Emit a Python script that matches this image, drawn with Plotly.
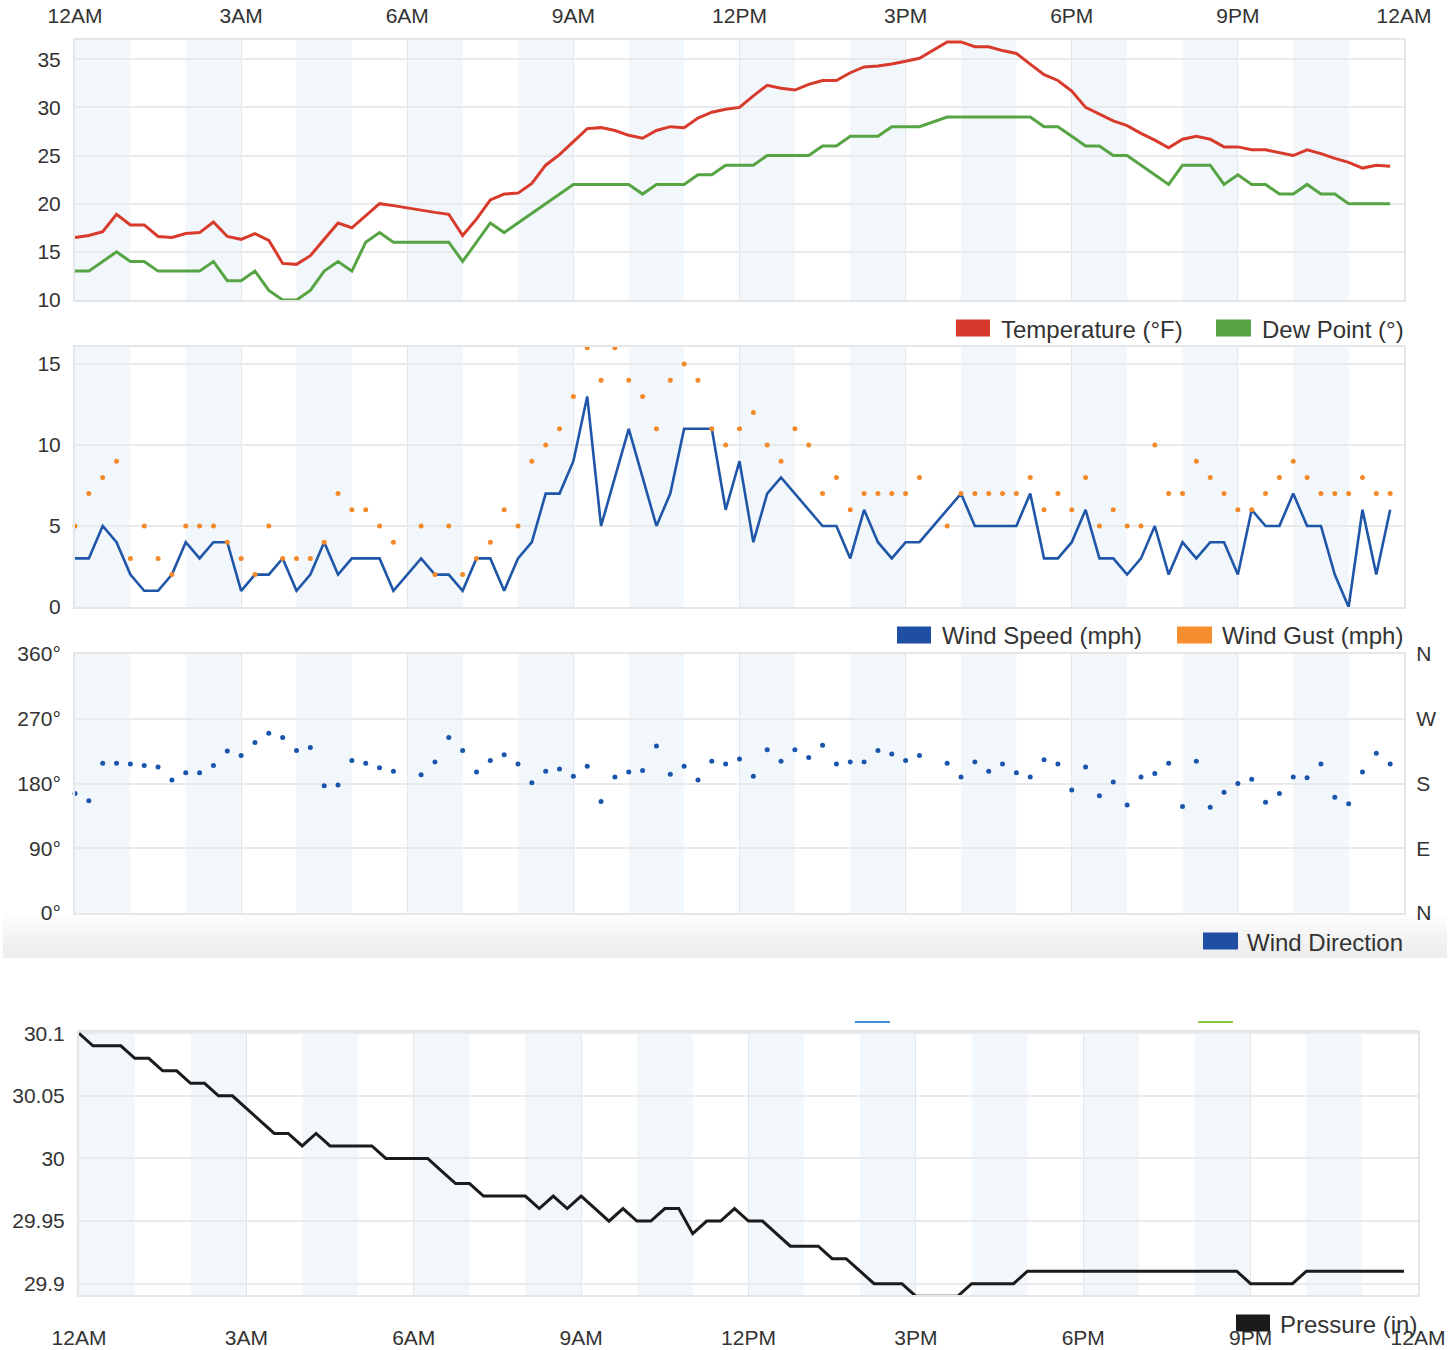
import plotly.graph_objects as go

W, H = 1456, 1350

# ---------------- data ----------------
times = [f"{h:02d}:{m:02d}" for h in range(24) for m in (0, 15, 30, 45)]
hour_tick_vals = [0, 3, 6, 9, 12, 15, 18, 21, 24]
hour_tick_text = ["12AM", "3AM", "6AM", "9AM", "12PM", "3PM", "6PM", "9PM", "12AM"]

temperature = [16.5, 16.7, 17.1, 18.9, 17.8, 17.8, 16.6, 16.5, 16.9, 17.0,
               18.1, 16.6, 16.3, 16.9, 16.2, 13.8, 13.7, 14.6, 16.3, 18.0,
               17.5, 18.8, 20.0, 19.8, None, 19.3, 19.1, 18.9, 16.7, 18.4,
               20.4, 21.0, 21.1, 22.1, 24.0, 25.1, 26.4, 27.8, 27.9, 27.6,
               27.1, 26.8, 27.6, 28.0, 27.9, 28.9, 29.5, 29.8,
               30.0, 31.2, 32.3, 32.0, 31.8, 32.4, 32.8, 32.8, 33.6, 34.2,
               34.3, 34.5, 34.8, 35.1, None, 36.8, 36.8, 36.3, 36.3, 35.9,
               35.6, 34.5, 33.4, 32.8, 31.7, 30.0, 29.3, 28.6, 28.1, 27.3,
               26.6, 25.8, 26.7, 27.0, 26.7, 25.9, 25.9, 25.6, 25.6, 25.3,
               25.0, 25.6, 25.2, 24.7, 24.3, 23.7, 24.0, 23.9]

dew_point = [13, 13, 14, 15, 14, 14, 13, 13, 13, 13,
             14, 12, 12, 13, 11, 10, 10, 11, 13, 14,
             13, 16, 17, 16, None, 16, 16, 16, 14, 16,
             18, 17, 18, 19, 20, 21, 22, 22, 22, 22,
             22, 21, 22, 22, 22, 23, 23, 24,
             24, 24, 25, 25, 25, 25, 26, 26, 27, 27,
             27, 28, 28, 28, None, 29, 29, 29, 29, 29,
             29, 29, 28, 28, 27, 26, 26, 25, 25, 24,
             23, 22, 24, 24, 24, 22, 23, 22, 22, 21,
             21, 22, 21, 21, 20, 20, 20, 20]

wind_speed = [3, 3, 5, 4, 2, 1, 1, 2, 4, 3,
              4, 4, 1, 2, 2, 3, 1, 2, 4, 2,
              3, 3, 3, 1, None, 3, 2, 2, 1, 3,
              3, 1, 3, 4, 7, 7, 9, 13, 5, 8,
              11, 8, 5, 7, 11, 11, 11, 6,
              9, 4, 7, 8, 7, 6, 5, 5, 3, 6,
              4, 3, 4, 4, None, 6, 7, 5, 5, 5,
              5, 7, 3, 3, 4, 6, 3, 3, 2, 3,
              5, 2, 4, 3, 4, 4, 2, 6, 5, 5,
              7, 5, 5, 2, 0, 6, 2, 6]

wind_gust = [5, 7, 8, 9, 3, 5, 3, 2, 5, 5,
             5, 4, 3, 2, 5, 3, 3, 3, 4, 7,
             6, 6, 5, 4, None, 5, 2, 5, 2, 3,
             4, 6, 5, 9, 10, 11, 13, 16, 14, 16,
             14, 13, 11, 14, 15, 14, 11, 10,
             11, 12, 10, 9, 11, 10, 7, 8, 6, 7,
             7, 7, 7, 8, None, 5, 7, 7, 7, 7,
             7, 8, 6, 7, 6, 8, 5, 6, 5, 5,
             10, 7, 7, 9, 8, 7, 6, 6, 7, 8,
             9, 8, 7, 7, 7, 8, 7, 7]

wind_dir = [166, 156, 208, 208, 207, 205, 203, 185, 195, 195,
            205, 225, 219, 237, 250, 244, 226, 230, 177, 178,
            212, 208, 202, 197, None, 192, 210, 244, 226, 196,
            212, 220, 207, 181, 197, 200, 190, 204, 155, 189,
            196, 198, 232, 193, 204, 185, 211, 207,
            214, 190, 227, 211, 227, 216, 233, 207, 210, 210,
            226, 221, 212, 219, None, 208, 189, 210, 197, 207,
            195, 189, 213, 207, 171, 203, 163, 182, 150, 189,
            194, 208, 148, 211, 147, 168, 180, 186, 154, 166,
            189, 188, 207, 161, 152, 196, 222, 207]

pressure = [30.10, 30.09, 30.09, 30.09, 30.08, 30.08, 30.07, 30.07, 30.06, 30.06,
            30.05, 30.05, 30.04, 30.03, 30.02, 30.02, 30.01, 30.02, 30.01, 30.01,
            30.01, 30.01, 30.00, 30.00, 30.00, 30.00, 29.99, 29.98, 29.98, 29.97,
            29.97, 29.97, 29.97, 29.96, 29.97, 29.96, 29.97, 29.96, 29.95, 29.96,
            29.95, 29.95, 29.96, 29.96, 29.94, 29.95, 29.95, 29.96,
            29.95, 29.95, 29.94, 29.93, 29.93, 29.93, 29.92, 29.92, 29.91, 29.90,
            29.90, 29.90, 29.89, 29.89, 29.89, 29.89, 29.90, 29.90, 29.90, 29.90,
            29.91, 29.91, 29.91, 29.91, 29.91, 29.91, 29.91, 29.91, 29.91, 29.91,
            29.91, 29.91, 29.91, 29.91, 29.91, 29.91, 29.90, 29.90, 29.90, 29.90,
            29.91, 29.91, 29.91, 29.91, 29.91, 29.91, 29.91, 29.91]

temp_ticks = [10, 15, 20, 25, 30, 35]
wind_ticks = [0, 5, 10, 15]
dir_ticks = [0, 90, 180, 270, 360]
dir_tick_text = ["0°", "90°", "180°", "270°", "360°"]
compass_text = ["N", "E", "S", "W", "N"]
pres_ticks = [29.9, 29.95, 30.0, 30.05, 30.1]
pres_tick_text = ["29.9", "29.95", "30", "30.05", "30.1"]

# ---------------- styling ----------------
FONT = "Liberation Sans, Arial, sans-serif"
TXT = "#333333"
BAND = "#f2f7fc"
GRID = "#e9eaec"
VGRID = "#e2e6eb"
BORDER = "#e4e6e8"

x = [int(t[:2]) + int(t[3:]) / 60 for t in times]


def px(v):
    return v / W


def py(v):
    return 1 - v / H


def xd(l, r):
    return [px(l), px(r)]


def yd(t, b):
    return [py(b), py(t)]


fig = go.Figure()

# Panel 1 traces
fig.add_trace(go.Scatter(x=x, y=temperature, mode="lines", connectgaps=True,
                         line=dict(color="#d83a2c", width=3), xaxis="x", yaxis="y",
                         name="Temperature (°F)", cliponaxis=False))
fig.add_trace(go.Scatter(x=x, y=dew_point, mode="lines", connectgaps=True,
                         line=dict(color="#57a444", width=3), xaxis="x", yaxis="y",
                         name="Dew Point (°)", cliponaxis=False))
# Panel 2
fig.add_trace(go.Scatter(x=x, y=wind_speed, mode="lines", connectgaps=True,
                         line=dict(color="#1f56a8", width=2.6), xaxis="x2", yaxis="y2",
                         name="Wind Speed (mph)", cliponaxis=False))
fig.add_trace(go.Scatter(x=x, y=wind_gust, mode="markers",
                         marker=dict(color="#f28a2a", size=5), xaxis="x2", yaxis="y2",
                         name="Wind Gust (mph)", cliponaxis=False))
# Panel 3 (plus an invisible copy on the compass axis so that axis is drawn)
fig.add_trace(go.Scatter(x=x, y=wind_dir, mode="markers",
                         marker=dict(color="#1a55ad", size=5), xaxis="x3", yaxis="y3",
                         name="Wind Direction", cliponaxis=False))
fig.add_trace(go.Scatter(x=x, y=wind_dir, mode="markers", opacity=0,
                         marker=dict(color="#1a55ad", size=1), xaxis="x3", yaxis="y5",
                         hoverinfo="skip", showlegend=False))
# Panel 4
fig.add_trace(go.Scatter(x=x, y=pressure, mode="lines",
                         line=dict(color="#1b1b1b", width=3), xaxis="x4", yaxis="y4",
                         name="Pressure (in)", cliponaxis=False))

tickfont = dict(family=FONT, size=21, color=TXT)


def xaxis_style(dom, anchor, show, side="bottom", ticklen=5):
    return dict(domain=dom, anchor=anchor, range=[0, 24], tickvals=hour_tick_vals,
                ticktext=hour_tick_text, showticklabels=show, side=side,
                showgrid=True, gridcolor=VGRID, gridwidth=1, zeroline=False,
                showline=True, mirror=True, linecolor=BORDER, linewidth=2,
                ticks="outside" if show else "", ticklen=ticklen,
                tickcolor="rgba(0,0,0,0)", tickfont=tickfont, fixedrange=True,
                automargin=False)


def yaxis_style(dom, anchor, rng, vals, text=None, ticklen=8):
    d = dict(domain=dom, anchor=anchor, range=rng, tickvals=vals,
             showgrid=True, gridcolor=GRID, gridwidth=2, zeroline=False,
             showline=True, mirror=True, linecolor=BORDER, linewidth=2,
             ticks="outside", ticklen=ticklen, tickcolor="rgba(0,0,0,0)",
             tickfont=tickfont, fixedrange=True, automargin=False)
    if text is not None:
        d["ticktext"] = text
    return d


X1 = xd(75, 1404)
X4 = xd(79, 1418)
Y1 = yd(40, 300)
Y2 = yd(347, 607)
Y3 = yd(654, 913)
Y4 = yd(1032, 1295)

fig.update_layout(
    template="none",
    xaxis=xaxis_style(X1, "y", True, side="top", ticklen=7),
    yaxis=yaxis_style(Y1, "x", [10, 37], temp_ticks),
    xaxis2=xaxis_style(X1, "y2", False),
    yaxis2=yaxis_style(Y2, "x2", [0, 16.05], wind_ticks),
    xaxis3=xaxis_style(X1, "y3", False),
    yaxis3=yaxis_style(Y3, "x3", [0, 360], dir_ticks, dir_tick_text),
    yaxis5=dict(overlaying="y3", anchor="x3", side="right", range=[0, 360],
                tickvals=dir_ticks, ticktext=compass_text, showgrid=False,
                zeroline=False, showline=False, ticks="outside", ticklen=7,
                tickcolor="rgba(0,0,0,0)", tickfont=tickfont, fixedrange=True,
                automargin=False),
    xaxis4=xaxis_style(X4, "y4", True, side="bottom", ticklen=23),
    yaxis4=yaxis_style(Y4, "x4", [29.891, 30.101], pres_ticks, pres_tick_text, ticklen=8),
)

shapes = []
# alternating hourly bands
for ax_x, ax_y in (("x", "y"), ("x2", "y2"), ("x3", "y3"), ("x4", "y4")):
    for h in range(0, 24, 2):
        shapes.append(dict(type="rect", xref=ax_x, yref=f"{ax_y} domain",
                           x0=h, x1=h + 1, y0=0, y1=1, fillcolor=BAND,
                           line=dict(width=0), layer="below"))

# soft gray fade under the wind-direction panel
n = 12
top, bot = 914, 958
for i in range(n):
    y0 = top + (bot - top) * i / n
    y1 = top + (bot - top) * (i + 1) / n
    g = int(255 - (255 - 236) * (i + 1) / n)
    shapes.append(dict(type="rect", xref="paper", yref="paper",
                       x0=px(3), x1=px(1447), y0=py(y1), y1=py(y0),
                       fillcolor=f"rgb({g},{g},{g})", line=dict(width=0), layer="below"))

# custom legends: (swatch x0, swatch x1, y center, color, label, text x)
legend_items = [
    (956, 990, 328, "#d63a2c", "Temperature (°F)", 999),
    (1216, 1251, 328, "#57a444", "Dew Point (°)", 1260),
    (897, 931, 635, "#1f4fa5", "Wind Speed (mph)", 940),
    (1177, 1212, 635, "#f68d2e", "Wind Gust (mph)", 1220),
    (1203, 1238, 941, "#1f4fa5", "Wind Direction", 1245),
    (1236, 1270, 1323, "#1b1b1b", "Pressure (in)", 1278),
]
annotations = []
for sx0, sx1, yc, col, label, tx in legend_items:
    shapes.append(dict(type="rect", xref="paper", yref="paper",
                       x0=px(sx0), x1=px(sx1), y0=py(yc + 8.5), y1=py(yc - 8.5),
                       fillcolor=col, line=dict(width=0)))
    annotations.append(dict(xref="paper", yref="paper", x=px(tx), y=py(yc + 1),
                            xanchor="left", yanchor="middle", text=label,
                            showarrow=False, font=dict(family=FONT, size=24, color=TXT)))

# faded legend stubs at top of pressure panel
shapes.append(dict(type="line", xref="paper", yref="paper", x0=px(855), x1=px(890),
                   y0=py(1022), y1=py(1022), line=dict(color="#3b8fd6", width=2)))
shapes.append(dict(type="line", xref="paper", yref="paper", x0=px(1198), x1=px(1233),
                   y0=py(1022), y1=py(1022), line=dict(color="#8cc63f", width=2)))

fig.update_layout(
    width=W, height=H, margin=dict(l=0, r=0, t=0, b=0),
    paper_bgcolor="white", plot_bgcolor="white",
    showlegend=False, shapes=shapes, annotations=annotations,
    font=dict(family=FONT, color=TXT),
)

# remove the default page margin so the figure fills the 1456x1350 window exactly
fig.write_html("out.html",
               config={"displayModeBar": False, "staticPlot": True},
               post_script="document.body.style.margin='0';"
                           "document.body.style.overflow='hidden';")
